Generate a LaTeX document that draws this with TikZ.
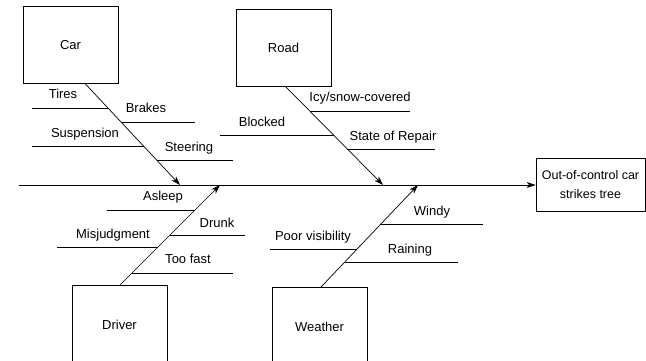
\documentclass[tikz,border=0pt]{standalone}
\usepackage{fontspec}
\setmainfont{Liberation Sans}
\usetikzlibrary{arrows.meta, positioning}
\tikzstyle{cause} = [rectangle, minimum width = 95, minimum height = 77,
  draw = black, text centered, inner sep = 0]
\tikzstyle{effect} = [
  rectangle,
  minimum width = 109, minimum height = 53,
  draw = black, align = center, inner sep = 0,
  font = \fontsize{12.5}{19}\selectfont
]
\tikzstyle{bone} = [-{Stealth[length = 9, width = 6, inset = 2.5]}]
\tikzstyle{lbl} = [inner sep = 0, anchor = base]

\begin{document}
\begin{tikzpicture}[x = 1pt, y = -1pt, line width = 0.7,
    font = \fontsize{13}{15}\selectfont]
      \useasboundingbox (0, 0) rectangle (646, 361);
      \clip (0, 0) rectangle (646, 361);

      \node [cause] (car) at (70.5, 45) {Car};
      \node [cause] (road) at (283.5, 47.5) {Road};
      \node [cause, minimum height = 80] (driver) at (119.5, 325) {Driver};
      \node [cause, minimum height = 80] (weather) at (319.5, 327) {Weather};
      \node [effect] (effect) at (590.5, 185) {Out-of-control car\\strikes tree};

      \coordinate (tail) at (19, 185);
      \draw [bone] (tail) -- (effect.west);

      \coordinate (car-root) at (85, 83.5);
      \coordinate (car-head) at (180, 185);
      \coordinate (road-root) at (285, 86);
      \coordinate (road-head) at (383, 185);
      \coordinate (driver-root) at (120, 285);
      \coordinate (driver-head) at (220, 185);
      \coordinate (weather-root) at (321, 287);
      \coordinate (weather-head) at (418, 185);
      \draw [bone] (car-root) -- (car-head);
      \draw [bone] (road-root) -- (road-head);
      \draw [bone] (driver-root) -- (driver-head);
      \draw [bone] (weather-root) -- (weather-head);

      % car
      \draw (32, 108) -- (108.3, 108);
      \draw (121.7, 122) -- (195, 122);
      \draw (32, 146) -- (143.7, 146);
      \draw (156.8, 160) -- (233, 160);
      \node [lbl] (tires) at (63, 99) {Tires};
      \node [lbl] (brakes) at (146, 113) {Brakes};
      \node [lbl] (suspension) at (85, 138) {Suspension};
      \node [lbl] (steering) at (189, 151) {Steering};

      % road
      \draw (309.7, 111) -- (410, 111);
      \draw (220, 135) -- (333.5, 135);
      \draw (347.4, 149) -- (435, 149);
      \node [lbl] (icy) at (360, 102) {Icy/snow-covered};
      \node [lbl] (blocked) at (262, 126) {Blocked};
      \node [lbl] (repair) at (393, 140) {State of Repair};

      % driver
      \draw (107, 210) -- (195, 210);
      \draw (170, 235) -- (245, 235);
      \draw (57, 247) -- (158, 247);
      \draw (132, 273) -- (233, 273);
      \node [lbl] (asleep) at (163, 200) {Asleep};
      \node [lbl] (drunk) at (217, 227) {Drunk};
      \node [lbl] (misjudgment) at (113, 238) {Misjudgment};
      \node [lbl] (toofast) at (188, 263) {Too fast};

      % weather
      \draw (381, 224) -- (483, 224);
      \draw (270, 249) -- (357, 249);
      \draw (344.8, 262) -- (458, 262);
      \node [lbl] (windy) at (432, 215) {Windy};
      \node [lbl] (visibility) at (313, 240) {Poor visibility};
      \node [lbl] (raining) at (410, 253) {Raining};
    \end{tikzpicture}
\end{document}
